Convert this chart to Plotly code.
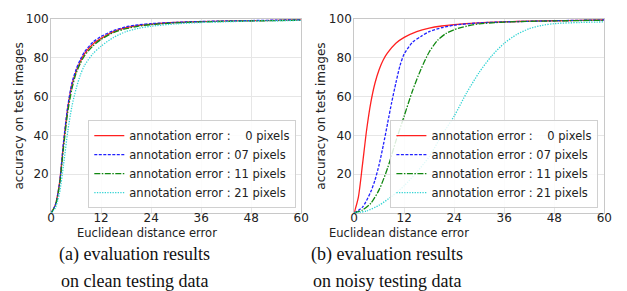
import plotly.graph_objects as go

# ---------------- data ----------------
series_names = ["annotation error :\u00a0\u00a0\u00a0 0 pixels",
                "annotation error : 07 pixels",
                "annotation error : 11 pixels",
                "annotation error : 21 pixels"]

# (a) clean testing data
clean_x = [0, 1, 2, 3, 4, 5, 6, 7, 8, 10, 12, 15, 18, 21, 24, 30, 36, 42, 48, 54, 60]
clean_00 = [0, 4, 15, 36, 54, 66, 73, 78, 82, 87, 90, 93.5, 95.5, 96.7, 97.4, 98.2, 98.6, 98.9, 99.1, 99.3, 99.5]
clean_07 = [0, 4, 15, 37, 55, 67, 74, 79, 83, 88, 91, 94, 96, 97, 97.6, 98.3, 98.7, 99, 99.2, 99.4, 99.6]
clean_11 = [0, 3.5, 14, 34, 52, 64, 72, 77, 81, 86, 89.5, 93, 95, 96.3, 97.1, 98, 98.5, 98.8, 99, 99.2, 99.4]
clean_21 = [0, 2.5, 10, 25, 42, 55, 64, 71, 76, 82, 86, 90.5, 93.5, 95.2, 96.3, 97.5, 98.2, 98.6, 98.9, 99.1, 99.3]

# (b) noisy testing data
noisy_x_00 = [0, 1, 2, 3, 4, 5, 6, 7, 8, 10, 12, 15, 18, 21, 24, 30, 36, 42, 48, 54, 60]
noisy_00 = [0, 8, 25, 43, 57, 67, 74, 79, 82.5, 87.5, 90.5, 93.5, 95.3, 96.4, 97.1, 98, 98.5, 98.9, 99.1, 99.3, 99.5]
noisy_x_07 = [0, 2, 4, 5, 6, 7, 8, 9, 10, 11, 12, 14, 16, 18, 21, 24, 30, 36, 48, 60]
noisy_07 = [0, 3, 11, 17, 25, 35, 46, 57, 67, 76, 82, 88, 91, 93.5, 95.5, 96.8, 98, 98.5, 99.1, 99.5]
noisy_x_11 = [0, 2, 4, 6, 8, 10, 12, 14, 16, 18, 20, 22, 24, 27, 30, 36, 42, 48, 54, 60]
noisy_11 = [0, 1.5, 5, 12, 23, 37, 50, 63, 74, 83, 89, 92.5, 94.5, 96.3, 97.5, 98.4, 98.8, 99, 99.2, 99.3]
noisy_x_21 = [0, 3, 6, 9, 12, 15, 18, 21, 24, 27, 30, 33, 36, 39, 42, 45, 48, 54, 60]
noisy_21 = [0, 1, 4, 8.5, 14, 21, 29, 40, 50, 62, 72.5, 81, 87.5, 92, 95, 96.7, 97.6, 98.2, 98.5]

x_ticks = [0, 12, 24, 36, 48, 60]
y_ticks = [20, 40, 60, 80, 100]

x_title = "Euclidean distance error"
y_title = "accuracy on test images"
caption_a = ["(a) evaluation results", "on clean testing data"]
caption_b = ["(b) evaluation results", "on noisy testing data"]

# ---------------- styles ----------------
colors = ["#ff2020", "#2020ff", "#118811", "#33d4d4"]
dashes = ["solid", "3px,1.5px", "6px,1.5px,1.5px,1.5px", "1.3px,1.3px"]

W, H = 627, 291
fig = go.Figure()

left_sets = [(clean_x, clean_00), (clean_x, clean_07), (clean_x, clean_11), (clean_x, clean_21)]
right_sets = [(noisy_x_00, noisy_00), (noisy_x_07, noisy_07), (noisy_x_11, noisy_11), (noisy_x_21, noisy_21)]

for i, (xs, ys) in enumerate(left_sets):
    fig.add_trace(go.Scatter(x=xs, y=ys, mode="lines", name=series_names[i],
                             line=dict(color=colors[i], dash=dashes[i], width=1.3, shape="spline", smoothing=0.7),
                             xaxis="x", yaxis="y", legend="legend"))
for i, (xs, ys) in enumerate(right_sets):
    fig.add_trace(go.Scatter(x=xs, y=ys, mode="lines", name=series_names[i],
                             line=dict(color=colors[i], dash=dashes[i], width=1.3, shape="spline", smoothing=0.7),
                             xaxis="x2", yaxis="y2", legend="legend2"))

def px_x(p):
    return p / W

def px_y(p):
    return 1 - p / H

y_dom = [px_y(211), px_y(12.3)]
axis_common = dict(showgrid=True, gridcolor="#e6e6e6", gridwidth=1,
                   showline=True, linecolor="#c8c8c8", linewidth=1, mirror=True,
                   zeroline=False, ticks="", tickfont=dict(family="DejaVu Sans", size=12, color="#222222"))

fig.update_layout(
    width=W, height=H,
    margin=dict(l=0, r=0, t=0, b=0),
    paper_bgcolor="white", plot_bgcolor="white",
    xaxis=dict(domain=[px_x(48), px_x(303)], range=[0, 60], tickvals=x_ticks, anchor="y",
               ticklabelstandoff=-6, **axis_common),
    yaxis=dict(domain=y_dom, range=[0, 100], tickvals=y_ticks, anchor="x",
               ticklabelstandoff=-1, **axis_common),
    xaxis2=dict(domain=[px_x(357), px_x(612)], range=[0, 60], tickvals=x_ticks, anchor="y2",
                ticklabelstandoff=-6, **axis_common),
    yaxis2=dict(domain=y_dom, range=[0, 100], tickvals=y_ticks, anchor="x2",
                ticklabelstandoff=-1, **axis_common),
    legend=dict(x=px_x(298), y=px_y(206), xanchor="right", yanchor="bottom",
                bgcolor="rgba(255,255,255,0.85)", bordercolor="#d0d0d0", borderwidth=1,
                font=dict(family="DejaVu Sans", size=11.5, color="#222222"),
                tracegroupgap=0, itemwidth=30),
    legend2=dict(x=px_x(606), y=px_y(206), xanchor="right", yanchor="bottom",
                 bgcolor="rgba(255,255,255,0.85)", bordercolor="#d0d0d0", borderwidth=1,
                 font=dict(family="DejaVu Sans", size=11.5, color="#222222"),
                 tracegroupgap=0, itemwidth=30),
    showlegend=True,
)

annos = []
# x titles
for cx in (146, 403):
    annos.append(dict(text=x_title, x=px_x(cx), y=px_y(232), xref="paper", yref="paper",
                      xanchor="center", yanchor="middle", showarrow=False,
                      font=dict(family="DejaVu Sans", size=11.5, color="#222222")))
# y titles
for cx in (15, 323):
    annos.append(dict(text=y_title, x=px_x(cx), y=px_y(111.5), xref="paper", yref="paper",
                      xanchor="center", yanchor="middle", showarrow=False, textangle=-90,
                      font=dict(family="DejaVu Sans", size=12, color="#222222")))
# captions
for cx, cap in ((133, caption_a), (390, caption_b)):
    for k, cy in enumerate((254, 281)):
        annos.append(dict(text=cap[k], x=px_x(cx), y=px_y(cy), xref="paper", yref="paper",
                          xanchor="center", yanchor="middle", showarrow=False,
                          font=dict(family="Liberation Serif", size=18, color="#111111")))
fig.update_layout(annotations=annos)

fig.write_html("out.html", config={"displayModeBar": False},
               post_script="document.body.style.margin='0';document.body.style.padding='0';")
